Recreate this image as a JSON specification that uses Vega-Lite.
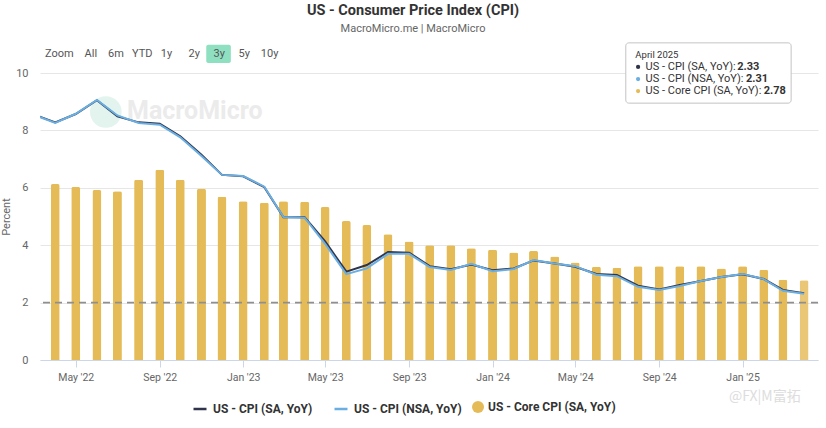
{
  "$schema": "https://vega.github.io/schema/vega-lite/v6.json",
  "width": 778,
  "height": 287,
  "autosize": {"type": "none"},
  "padding": {"left": 40, "top": 73, "right": 8, "bottom": 68},
  "background": "#ffffff",
  "title": {
    "text": "US - Consumer Price Index (CPI)",
    "subtitle": "MacroMicro.me | MacroMicro",
    "fontSize": 14.5,
    "fontWeight": "bold",
    "color": "#333333",
    "subtitleFontSize": 11,
    "subtitleColor": "#666666",
    "subtitlePadding": 5,
    "anchor": "middle",
    "offset": 7,
    "dx": -16
  },
  "config": {
    "font": "Roboto",
    "view": {"stroke": null}
  },
  "data": {
    "values": [
      {"date": "2022-03-01", "sa": 8.55, "nsa": 8.54, "core": null},
      {"date": "2022-04-01", "sa": 8.28, "nsa": 8.26, "core": 6.13},
      {"date": "2022-05-01", "sa": 8.57, "nsa": 8.58, "core": 6.03},
      {"date": "2022-06-01", "sa": 9.05, "nsa": 9.06, "core": 5.92},
      {"date": "2022-07-01", "sa": 8.49, "nsa": 8.52, "core": 5.88},
      {"date": "2022-08-01", "sa": 8.28, "nsa": 8.26, "core": 6.28},
      {"date": "2022-09-01", "sa": 8.23, "nsa": 8.2, "core": 6.63},
      {"date": "2022-10-01", "sa": 7.79, "nsa": 7.76, "core": 6.28},
      {"date": "2022-11-01", "sa": 7.15, "nsa": 7.11, "core": 5.97},
      {"date": "2022-12-01", "sa": 6.45, "nsa": 6.45, "core": 5.69},
      {"date": "2023-01-01", "sa": 6.4, "nsa": 6.41, "core": 5.53},
      {"date": "2023-02-01", "sa": 6.02, "nsa": 6.04, "core": 5.48},
      {"date": "2023-03-01", "sa": 4.97, "nsa": 4.98, "core": 5.53},
      {"date": "2023-04-01", "sa": 4.97, "nsa": 4.96, "core": 5.51},
      {"date": "2023-05-01", "sa": 4.13, "nsa": 4.05, "core": 5.33},
      {"date": "2023-06-01", "sa": 3.08, "nsa": 2.99, "core": 4.84},
      {"date": "2023-07-01", "sa": 3.31, "nsa": 3.19, "core": 4.7},
      {"date": "2023-08-01", "sa": 3.76, "nsa": 3.7, "core": 4.38},
      {"date": "2023-09-01", "sa": 3.74, "nsa": 3.7, "core": 4.13},
      {"date": "2023-10-01", "sa": 3.27, "nsa": 3.24, "core": 4.0},
      {"date": "2023-11-01", "sa": 3.16, "nsa": 3.14, "core": 4.0},
      {"date": "2023-12-01", "sa": 3.33, "nsa": 3.35, "core": 3.89},
      {"date": "2024-01-01", "sa": 3.13, "nsa": 3.09, "core": 3.84},
      {"date": "2024-02-01", "sa": 3.19, "nsa": 3.17, "core": 3.75},
      {"date": "2024-03-01", "sa": 3.47, "nsa": 3.48, "core": 3.8},
      {"date": "2024-04-01", "sa": 3.36, "nsa": 3.36, "core": 3.61},
      {"date": "2024-05-01", "sa": 3.25, "nsa": 3.27, "core": 3.4},
      {"date": "2024-06-01", "sa": 3.0, "nsa": 2.97, "core": 3.25},
      {"date": "2024-07-01", "sa": 2.96, "nsa": 2.92, "core": 3.21},
      {"date": "2024-08-01", "sa": 2.59, "nsa": 2.55, "core": 3.27},
      {"date": "2024-09-01", "sa": 2.46, "nsa": 2.44, "core": 3.27},
      {"date": "2024-10-01", "sa": 2.61, "nsa": 2.58, "core": 3.27},
      {"date": "2024-11-01", "sa": 2.75, "nsa": 2.75, "core": 3.27},
      {"date": "2024-12-01", "sa": 2.89, "nsa": 2.89, "core": 3.19},
      {"date": "2025-01-01", "sa": 2.99, "nsa": 3.0, "core": 3.27},
      {"date": "2025-02-01", "sa": 2.82, "nsa": 2.82, "core": 3.14},
      {"date": "2025-03-01", "sa": 2.44, "nsa": 2.41, "core": 2.8},
      {"date": "2025-04-01", "sa": 2.33, "nsa": 2.31, "core": 2.78}
    ],
    "format": {"parse": {"date": "date"}}
  },
  "layer": [
    {
      "data": {"values": [{}]},
      "mark": {"type": "point", "filled": true, "shape": "circle", "size": 1000, "color": "#e2f4ed", "opacity": 1},
      "encoding": {
        "x": {"datum": {"year": 2022, "month": 6, "date": 14, "utc": true}, "type": "temporal"},
        "y": {"datum": 8.64, "type": "quantitative"}
      }
    },
    {
      "data": {"values": [{}]},
      "mark": {"type": "text", "text": "MacroMicro", "align": "left", "baseline": "middle", "fontSize": 25, "fontWeight": "bold", "color": "#ebebeb"},
      "encoding": {
        "x": {"datum": {"year": 2022, "month": 7, "date": 15, "utc": true}, "type": "temporal"},
        "y": {"datum": 8.68, "type": "quantitative"}
      }
    },
    {
      "transform": [{"filter": "datum.core != null"}],
      "mark": {"type": "bar", "size": 9, "cornerRadiusTopLeft": 2, "cornerRadiusTopRight": 2},
      "encoding": {
        "x": {
          "field": "date",
          "type": "temporal",
          "scale": {
            "type": "utc",
            "domain": [
              {"year": 2022, "month": 3, "date": 17, "utc": true},
              {"year": 2025, "month": 4, "date": 14, "utc": true}
            ]
          },
          "axis": {
            "title": null,
            "values": [
              {"year": 2022, "month": 5, "date": 1, "utc": true},
              {"year": 2022, "month": 9, "date": 1, "utc": true},
              {"year": 2023, "month": 1, "date": 1, "utc": true},
              {"year": 2023, "month": 5, "date": 1, "utc": true},
              {"year": 2023, "month": 9, "date": 1, "utc": true},
              {"year": 2024, "month": 1, "date": 1, "utc": true},
              {"year": 2024, "month": 5, "date": 1, "utc": true},
              {"year": 2024, "month": 9, "date": 1, "utc": true},
              {"year": 2025, "month": 1, "date": 1, "utc": true}
            ],
            "format": "%b '%y",
            "grid": false,
            "domainColor": "#ccd6eb",
            "tickColor": "#ccd6eb",
            "tickSize": 7,
            "labelColor": "#666666",
            "labelFontSize": 10.5,
            "labelPadding": 5
          }
        },
        "y": {
          "field": "core",
          "type": "quantitative",
          "scale": {"domain": [0, 10], "nice": false},
          "axis": {
            "title": "Percent",
            "values": [0, 2, 4, 6, 8, 10],
            "grid": true,
            "gridColor": "#e6e6e6",
            "domain": false,
            "ticks": false,
            "labelPadding": 12,
            "labelColor": "#666666",
            "labelFontSize": 11,
            "titleColor": "#666666",
            "titleFontSize": 11,
            "titleFontWeight": "normal",
            "titlePadding": 4
          }
        },
        "fill": {
          "datum": "US - Core CPI (SA, YoY)",
          "type": "nominal",
          "scale": {"domain": ["US - Core CPI (SA, YoY)"], "range": ["#e5bb58"]},
          "legend": {
            "title": null,
            "orient": "none",
            "legendX": 432,
            "legendY": 328,
            "direction": "horizontal",
            "labelFont": "Roboto",
            "labelFontSize": 12,
            "labelFontWeight": "bold",
            "labelColor": "#333333",
            "labelOffset": 4,
            "symbolType": "circle",
            "symbolSize": 144,
            "symbolStrokeWidth": 0,
            "symbolOpacity": 1
          }
        },
        "opacity": {
          "condition": {"test": "utcyear(datum.date) === 2025 && utcmonth(datum.date) === 3", "value": 0.82},
          "value": 1
        }
      }
    },
    {
      "data": {"values": [{}]},
      "mark": {"type": "rule", "color": "#8f8f8f", "strokeWidth": 1.6, "strokeDash": [7, 5]},
      "encoding": {"y": {"datum": 2, "type": "quantitative"}}
    },
    {
      "mark": {"type": "line", "strokeWidth": 2, "clip": true},
      "encoding": {
        "x": {"field": "date", "type": "temporal"},
        "y": {"field": "sa", "type": "quantitative", "title": "Percent"},
        "stroke": {
          "datum": "US - CPI (SA, YoY)",
          "type": "nominal",
          "scale": {"domain": ["US - CPI (SA, YoY)", "US - CPI (NSA, YoY)"], "range": ["#30344a", "#6aaee2"]},
          "legend": {
            "title": null,
            "orient": "none",
            "legendX": 152,
            "legendY": 328,
            "direction": "horizontal",
            "columns": 2,
            "columnPadding": 16,
            "labelFont": "Roboto",
            "labelFontSize": 12,
            "labelFontWeight": "bold",
            "labelColor": "#333333",
            "labelOffset": 5,
            "symbolType": "stroke",
            "symbolSize": 169,
            "symbolStrokeWidth": 2.5
          }
        }
      }
    },
    {
      "mark": {"type": "line", "strokeWidth": 2, "clip": true},
      "encoding": {
        "x": {"field": "date", "type": "temporal"},
        "y": {"field": "nsa", "type": "quantitative", "title": "Percent"},
        "stroke": {"datum": "US - CPI (NSA, YoY)", "type": "nominal"}
      }
    },
    {
      "data": {"values": [{}]},
      "mark": {"type": "rect", "color": "#8fe0c1", "cornerRadius": 2},
      "encoding": {
        "x": {"datum": {"year": 2022, "month": 11, "date": 8, "utc": true}, "type": "temporal"},
        "x2": {"datum": {"year": 2022, "month": 12, "date": 14, "utc": true}},
        "y": {"datum": 10.98, "type": "quantitative"},
        "y2": {"datum": 10.35}
      }
    },
    {
      "data": {"values": [{}]},
      "mark": {"type": "text", "text": "Zoom\u00a0\u00a0\u00a0\u00a0All\u00a0\u00a0\u00a0\u00a06m\u00a0\u00a0\u00a0YTD\u00a0\u00a0\u00a01y\u00a0\u00a0\u00a0\u00a0\u00a0\u00a02y\u00a0\u00a0\u00a0\u00a0\u00a03y\u00a0\u00a0\u00a0\u00a0\u00a05y\u00a0\u00a0\u00a0\u00a010y", "align": "left", "baseline": "middle", "fontSize": 11, "color": "#555555"},
      "encoding": {
        "x": {"datum": {"year": 2022, "month": 3, "date": 17, "utc": true}, "type": "temporal"},
        "y": {"datum": 10.66, "type": "quantitative"}
      }
    },
    {
      "data": {"values": [{}]},
      "mark": {"type": "rect", "color": "#000000", "opacity": 0.1, "cornerRadius": 3, "xOffset": 2, "yOffset": 2},
      "encoding": {
        "x": {"datum": {"year": 2024, "month": 7, "date": 14, "utc": true}, "type": "temporal"},
        "x2": {"datum": {"year": 2025, "month": 3, "date": 13, "utc": true}},
        "y": {"datum": 11.05, "type": "quantitative"},
        "y2": {"datum": 8.95}
      }
    },
    {
      "data": {"values": [{}]},
      "mark": {"type": "rect", "fill": "#ffffff", "stroke": "#c4c4c4", "strokeWidth": 1, "cornerRadius": 3},
      "encoding": {
        "x": {"datum": {"year": 2024, "month": 7, "date": 14, "utc": true}, "type": "temporal"},
        "x2": {"datum": {"year": 2025, "month": 3, "date": 13, "utc": true}},
        "y": {"datum": 11.05, "type": "quantitative"},
        "y2": {"datum": 8.95}
      }
    },
    {
      "data": {"values": [{}]},
      "mark": {"type": "text", "text": "April 2025", "align": "left", "baseline": "middle", "fontSize": 9.5, "color": "#333333"},
      "encoding": {
        "x": {"datum": {"year": 2024, "month": 7, "date": 28, "utc": true}, "type": "temporal"},
        "y": {"datum": 10.63, "type": "quantitative"}
      }
    },
    {
      "data": {"values": [{}]},
      "mark": {"type": "point", "filled": true, "shape": "circle", "size": 18, "color": "#30344a", "opacity": 1},
      "encoding": {
        "x": {"datum": {"year": 2024, "month": 8, "date": 1, "utc": true}, "type": "temporal"},
        "y": {"datum": 10.21, "type": "quantitative"}
      }
    },
    {
      "data": {"values": [{}]},
      "mark": {"type": "point", "filled": true, "shape": "circle", "size": 18, "color": "#6aaee2", "opacity": 1},
      "encoding": {
        "x": {"datum": {"year": 2024, "month": 8, "date": 1, "utc": true}, "type": "temporal"},
        "y": {"datum": 9.79, "type": "quantitative"}
      }
    },
    {
      "data": {"values": [{}]},
      "mark": {"type": "point", "filled": true, "shape": "circle", "size": 18, "color": "#e5bb58", "opacity": 1},
      "encoding": {
        "x": {"datum": {"year": 2024, "month": 8, "date": 1, "utc": true}, "type": "temporal"},
        "y": {"datum": 9.37, "type": "quantitative"}
      }
    },
    {
      "data": {"values": [{}]},
      "mark": {"type": "text", "text": "US - CPI (SA, YoY):", "align": "left", "baseline": "middle", "fontSize": 11, "color": "#333333"},
      "encoding": {
        "x": {"datum": {"year": 2024, "month": 8, "date": 12, "utc": true}, "type": "temporal"},
        "y": {"datum": 10.21, "type": "quantitative"}
      }
    },
    {
      "data": {"values": [{}]},
      "mark": {"type": "text", "text": "US - CPI (NSA, YoY):", "align": "left", "baseline": "middle", "fontSize": 11, "color": "#333333"},
      "encoding": {
        "x": {"datum": {"year": 2024, "month": 8, "date": 12, "utc": true}, "type": "temporal"},
        "y": {"datum": 9.79, "type": "quantitative"}
      }
    },
    {
      "data": {"values": [{}]},
      "mark": {"type": "text", "text": "US - Core CPI (SA, YoY):", "align": "left", "baseline": "middle", "fontSize": 11, "color": "#333333"},
      "encoding": {
        "x": {"datum": {"year": 2024, "month": 8, "date": 12, "utc": true}, "type": "temporal"},
        "y": {"datum": 9.37, "type": "quantitative"}
      }
    },
    {
      "transform": [{"filter": "utcyear(datum.date) === 2025 && utcmonth(datum.date) === 3"}],
      "mark": {"type": "text", "align": "left", "baseline": "middle", "fontSize": 11, "fontWeight": "bold", "color": "#333333"},
      "encoding": {
        "x": {"datum": {"year": 2024, "month": 12, "date": 24, "utc": true}, "type": "temporal"},
        "y": {"datum": 10.21, "type": "quantitative"},
        "text": {"field": "sa", "type": "quantitative", "format": ".2f"}
      }
    },
    {
      "transform": [{"filter": "utcyear(datum.date) === 2025 && utcmonth(datum.date) === 3"}],
      "mark": {"type": "text", "align": "left", "baseline": "middle", "fontSize": 11, "fontWeight": "bold", "color": "#333333"},
      "encoding": {
        "x": {"datum": {"year": 2025, "month": 1, "date": 6, "utc": true}, "type": "temporal"},
        "y": {"datum": 9.79, "type": "quantitative"},
        "text": {"field": "nsa", "type": "quantitative", "format": ".2f"}
      }
    },
    {
      "transform": [{"filter": "utcyear(datum.date) === 2025 && utcmonth(datum.date) === 3"}],
      "mark": {"type": "text", "align": "left", "baseline": "middle", "fontSize": 11, "fontWeight": "bold", "color": "#333333"},
      "encoding": {
        "x": {"datum": {"year": 2025, "month": 2, "date": 1, "utc": true}, "type": "temporal"},
        "y": {"datum": 9.37, "type": "quantitative"},
        "text": {"field": "core", "type": "quantitative", "format": ".2f"}
      }
    },
    {
      "data": {"values": [{}]},
      "mark": {"type": "text", "text": "@FX|M富拓", "align": "left", "baseline": "middle", "fontSize": 14, "font": "Noto Sans CJK SC", "color": "#dddddd"},
      "encoding": {
        "x": {"datum": {"year": 2024, "month": 12, "date": 12, "utc": true}, "type": "temporal"},
        "y": {"datum": -1.29, "type": "quantitative"}
      }
    }
  ]
}
